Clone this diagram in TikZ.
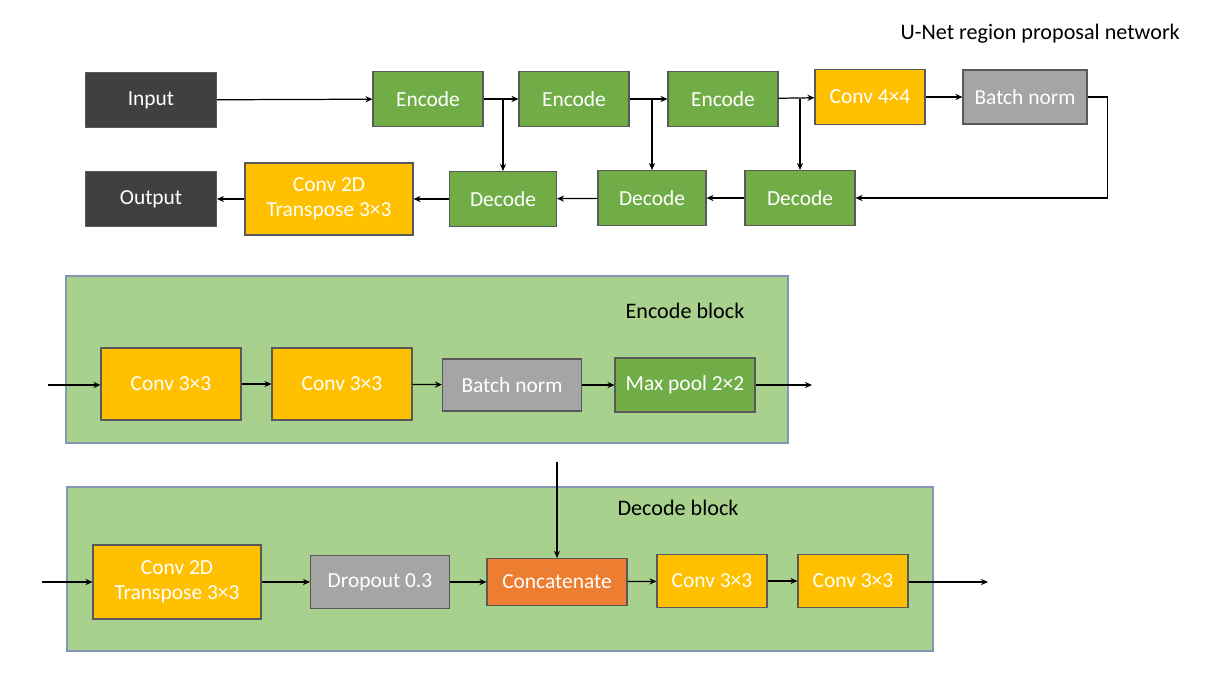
\documentclass[tikz,border=0pt]{standalone}
\usepackage{fontspec}
\setmainfont{Carlito}
\usetikzlibrary{arrows.meta, positioning}

\definecolor{dunkel}{HTML}{404040}
\definecolor{gruen}{HTML}{70AD47}
\definecolor{gelb}{HTML}{FFC000}
\definecolor{grau}{HTML}{A5A5A5}
\definecolor{orangefarbe}{HTML}{ED7D31}
\definecolor{hellgruen}{HTML}{A9D18E}
\definecolor{rand}{HTML}{8497B0}

\tikzset{
    kasten/.style={draw=black!65, line width=0.6pt, text=white, align=center,
        font=\fontsize{12.2}{14}\selectfont, inner sep=1pt},
    dunkelbox/.style={kasten, fill=dunkel, minimum width=2.62cm, minimum height=1.1cm},
    gruenbox/.style={kasten, fill=gruen, minimum width=2.2cm, minimum height=1.1cm},
    gelbbox/.style={kasten, fill=gelb, minimum width=2.2cm, minimum height=1.1cm},
    graubox/.style={kasten, fill=grau, minimum width=2.48cm, minimum height=1.08cm},
    bereich/.style={draw=rand, line width=0.7pt, fill=hellgruen},
    beschriftung/.style={font=\fontsize{12.6}{14}\selectfont, text=black},
    pfeil/.style={draw=black, line width=0.7pt, -{Stealth[length=4pt,width=3.5pt]}}
}

\begin{document}
\begin{tikzpicture}[x=0.02cm, y=-0.02cm]
  \useasboundingbox (0,0) rectangle (1221,691);

  % Titel
  \node[beschriftung, anchor=east] (titel) at (1186,34) {U-Net region proposal network};

  % Netz oben
  \node[dunkelbox] (inp) at (151,100) {Input};
  \node[gruenbox] (enc1) at (428,99) {Encode};
  \node[gruenbox] (enc2) at (574,99) {Encode};
  \node[gruenbox] (enc3) at (723,99) {Encode};
  \node[gelbbox] (conv44) at (870,97) {Conv 4×4};
  \node[graubox] (bn) at (1025,97) {Batch norm};

  \node[dunkelbox] (outp) at (151,199) {Output};
  \node[gelbbox, minimum width=3.36cm, minimum height=1.44cm] (tconv) at (329,199) {Conv 2D\\Transpose 3×3};
  \node[gruenbox, minimum width=2.14cm] (dec1) at (503,199) {Decode};
  \node[gruenbox, minimum width=2.16cm] (dec2) at (652,198) {Decode};
  \node[gruenbox] (dec3) at (800,198) {Decode};

  % Verbindungen oben
  \draw[pfeil] (inp) -- (enc1);
  \draw[pfeil] (enc1) -- (enc2);
  \draw[pfeil] (enc2) -- (enc3);
  \draw[pfeil] (enc3) -- (conv44);
  \draw[pfeil] (conv44) -- (bn);

  % Skip-Verbindungen
  \draw[pfeil] (dec1.north |- enc1.east) -- (dec1.north);
  \draw[pfeil] (dec2.north |- enc2.east) -- (dec2.north);
  \draw[pfeil] (dec3.north |- enc3.east) -- (dec3.north);

  % Rueckweg
  \draw[pfeil] (bn.east) -- ++(20,0) |- (dec3.east);
  \draw[pfeil] (dec3) -- (dec2);
  \draw[pfeil] (dec2) -- (dec1);
  \draw[pfeil] (dec1) -- (tconv);
  \draw[pfeil] (tconv) -- (outp);

  % Encode block
  \node[bereich, minimum width=14.44cm, minimum height=3.34cm] (encblk) at (427,359.5) {};
  \node[beschriftung] (enclabel) at (685,311) {Encode block};
  \node[gelbbox, minimum width=2.8cm, minimum height=1.44cm] (c1) at (171,384) {Conv 3×3};
  \node[gelbbox, minimum width=2.8cm, minimum height=1.44cm] (c2) at (342,384) {Conv 3×3};
  \node[graubox, minimum width=2.78cm, minimum height=1.04cm] (bn2) at (512,385) {Batch norm};
  \node[gruenbox, minimum width=2.8cm, minimum height=1.08cm] (mp) at (685,385) {Max pool 2×2};
  \coordinate (ein) at (48,385);
  \coordinate (aus) at (812,385);

  \draw[pfeil] (ein) -- (c1.west |- ein);
  \draw[pfeil] (c1) -- (c2);
  \draw[pfeil] (c2) -- (bn2);
  \draw[pfeil] (bn2) -- (mp);
  \draw[pfeil] (mp.east |- aus) -- (aus);

  % Decode block
  \node[bereich, minimum width=17.32cm, minimum height=3.28cm] (decblk) at (500,569) {};
  \node[beschriftung] (declabel) at (678,508) {Decode block};
  \node[gelbbox, minimum width=3.36cm, minimum height=1.48cm] (t2) at (177,582) {Conv 2D\\Transpose 3×3};
  \node[graubox, minimum width=2.78cm, minimum height=1.06cm] (drop) at (380,582) {Dropout 0.3};
  \node[kasten, fill=orangefarbe, minimum width=2.8cm, minimum height=0.94cm] (concat) at (557,582) {Concatenate};
  \node[gelbbox, minimum height=1.06cm] (c3) at (712,581) {Conv 3×3};
  \node[gelbbox, minimum height=1.06cm] (c4) at (853,581) {Conv 3×3};
  \coordinate (ein2) at (42,582);
  \coordinate (aus2) at (988,582);
  \coordinate (skip) at (557,462);

  \draw[pfeil] (ein2) -- (t2.west |- ein2);
  \draw[pfeil] (t2) -- (drop);
  \draw[pfeil] (drop) -- (concat);
  \draw[pfeil] (concat) -- (c3);
  \draw[pfeil] (c3) -- (c4);
  \draw[pfeil] (c4.east |- aus2) -- (aus2);
  \draw[pfeil] (skip) -- (concat);

\end{tikzpicture}
\end{document}
